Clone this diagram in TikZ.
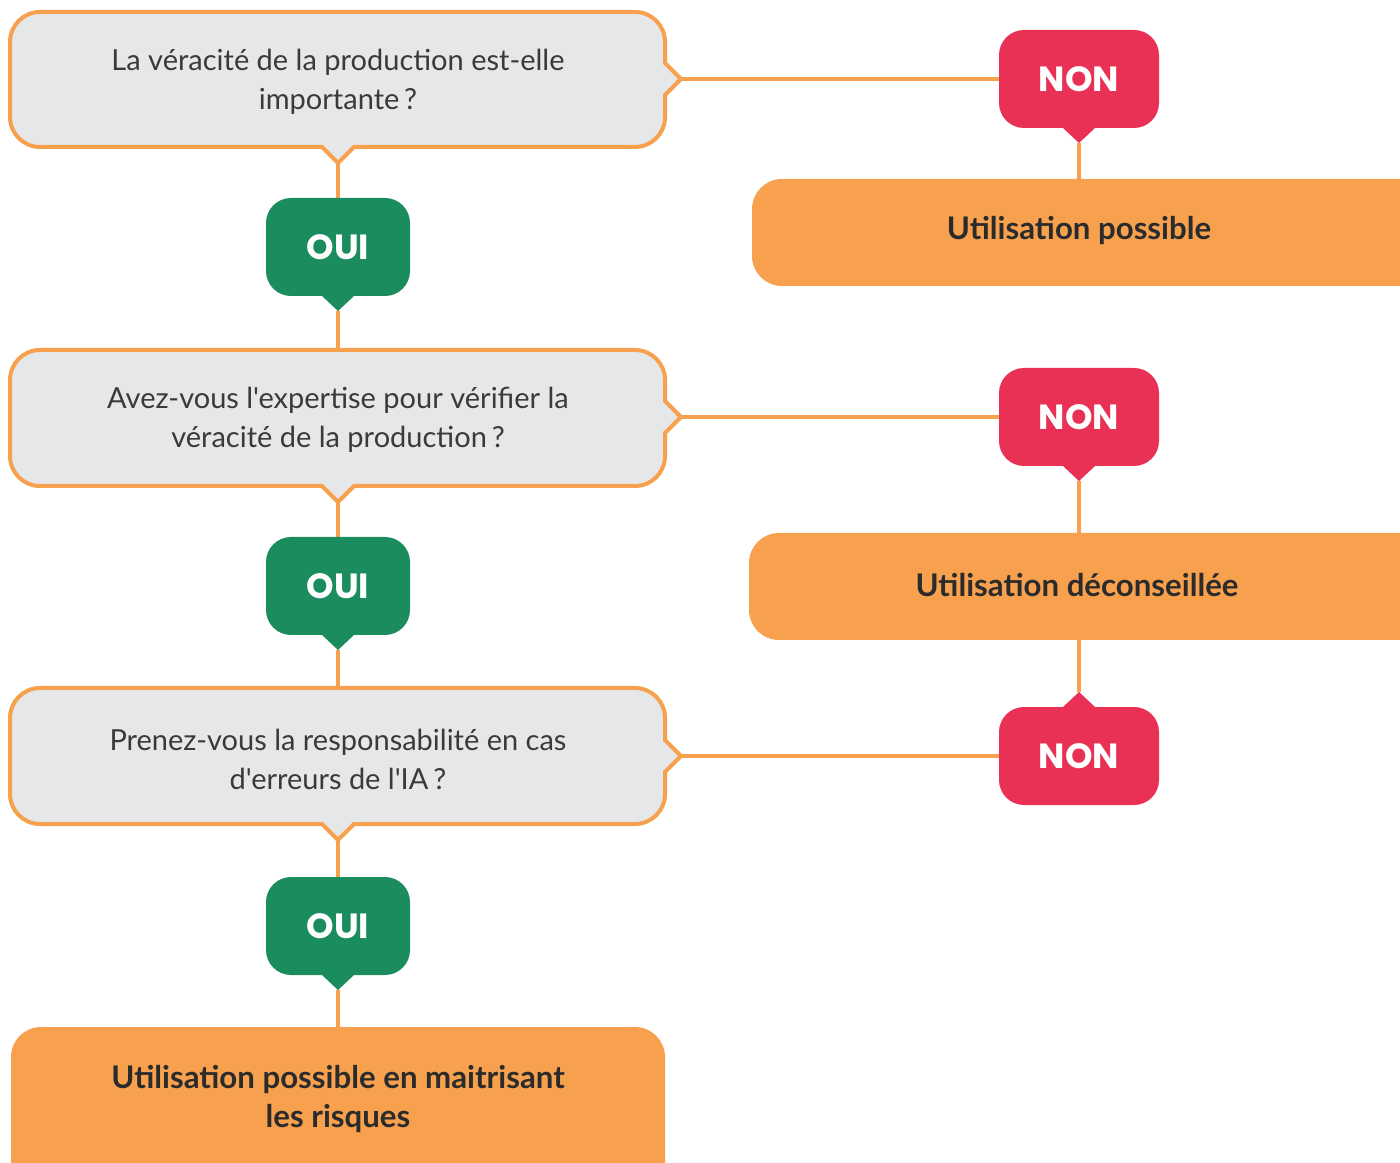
\documentclass[tikz,border=0pt]{standalone}
\usepackage{fontspec}
\setmainfont{Lato}[Ligatures=TeXOff]
\newfontfamily\badgefont{Poppins}
\usetikzlibrary{backgrounds}
\definecolor{orangeA}{HTML}{F7A14F}
\definecolor{grayfill}{HTML}{E6E7E8}
\definecolor{greenA}{HTML}{1A8C5E}
\definecolor{redA}{HTML}{E93055}
\definecolor{qtxt}{HTML}{3A3A3A}
\definecolor{rtxt}{HTML}{2B2B2B}
% question box: #1 top, #2 bottom, #3 middle (y of right notch)
\newcommand{\qshapedraw}[3]{%
  \draw[qshape] (40,#1) -- (635,#1) arc[start angle=90,end angle=0,radius=30]
    -- (665,#3+16) -- (681,#3) -- (665,#3-16)
    -- (665,#2+30) arc[start angle=0,end angle=-90,radius=30]
    -- (354,#2) -- (338,#2-16) -- (322,#2)
    -- (40,#2) arc[start angle=270,end angle=180,radius=30]
    -- (10,#1-30) arc[start angle=180,end angle=90,radius=30] -- cycle;}
% badge with pointer down: #1 colour, #2 left, #3 right, #4 top, #5 bottom, #6 pointer x
\newcommand{\badgedown}[6]{%
  \fill[#1] (#2+25,#4) -- (#3-25,#4) arc[start angle=90,end angle=0,radius=25]
    -- (#3,#5+25) arc[start angle=0,end angle=-90,radius=25]
    -- (#6+16,#5) -- (#6,#5-15) -- (#6-16,#5)
    -- (#2+25,#5) arc[start angle=270,end angle=180,radius=25]
    -- (#2,#4-25) arc[start angle=180,end angle=90,radius=25] -- cycle;}
% badge with pointer up
\newcommand{\badgeup}[6]{%
  \fill[#1] (#2+25,#4) -- (#6-16,#4) -- (#6,#4+15) -- (#6+16,#4)
    -- (#3-25,#4) arc[start angle=90,end angle=0,radius=25]
    -- (#3,#5+25) arc[start angle=0,end angle=-90,radius=25]
    -- (#2+25,#5) arc[start angle=270,end angle=180,radius=25]
    -- (#2,#4-25) arc[start angle=180,end angle=90,radius=25] -- cycle;}
\tikzset{
  qshape/.style={draw=orangeA, fill=grayfill, line width=2pt, line join=miter},
  link/.style={draw=orangeA, line width=2pt},
  qtext/.style={text=qtxt, font=\fontsize{14.5}{19.5}\selectfont, align=center, inner sep=0pt},
  resbox/.style={fill=orangeA, rounded corners=15pt, inner sep=0pt},
  restext/.style={text=rtxt, font=\bfseries\fontsize{15.6}{19.5}\selectfont, align=center, inner sep=0pt},
  nontext/.style={text=white, font=\badgefont\bfseries\fontsize{17.5}{20}\selectfont, inner sep=0pt, minimum width=80pt, minimum height=49pt},
  ouitext/.style={text=white, font=\badgefont\bfseries\fontsize{17.5}{20}\selectfont, inner sep=0pt, minimum width=72pt, minimum height=49pt},
}
\begin{document}
\begin{tikzpicture}[x=0.5pt, y=0.5pt]
\useasboundingbox (0,0) rectangle (1400,1162);
\clip (0,0) rectangle (1400,1162);

% question boxes
\qshapedraw{1150}{1015}{1083}
\qshapedraw{812}{676}{745}
\qshapedraw{474}{338}{406}
\node[qtext] (q1) at (338,1080) {La véracité de la production est-elle\\importante\,?};
\node[qtext] (q2) at (338,742) {Avez-vous l'expertise pour vérifier la\\véracité de la production\,?};
\node[qtext] (q3) at (338,403) {Prenez-vous la responsabilité en cas\\d'erreurs de l'IA\,?};
\coordinate (q1r) at (681,1083);
\coordinate (q1b) at (338,999);
\coordinate (q2t) at (338,812);
\coordinate (q2r) at (681,745);
\coordinate (q2b) at (338,660);
\coordinate (q3t) at (338,474);
\coordinate (q3r) at (681,406);
\coordinate (q3b) at (338,322);

% OUI badges
\badgedown{greenA}{266}{410}{964}{866}{338}
\badgedown{greenA}{266}{410}{625}{527}{338}
\badgedown{greenA}{266}{410}{285}{187}{338}
\node[ouitext] (oui1) at (338,915) {OUI};
\node[ouitext] (oui2) at (338,576) {OUI};
\node[ouitext] (oui3) at (338,236) {OUI};
\coordinate (oui1tip) at (338,851);
\coordinate (oui2tip) at (338,512);
\coordinate (oui3tip) at (338,172);

% NON badges
\badgedown{redA}{999}{1159}{1132}{1034}{1079}
\badgedown{redA}{999}{1159}{794}{696}{1079}
\badgeup{redA}{999}{1159}{455}{357}{1079}
\node[nontext] (non1) at (1079,1083) {NON};
\node[nontext] (non2) at (1079,745) {NON};
\node[nontext] (non3) at (1079,406) {NON};
\coordinate (non1tip) at (1079,1019);
\coordinate (non2tip) at (1079,681);
\coordinate (non3tip) at (1079,470);

% result boxes
\node[resbox, minimum width=339pt, minimum height=53.5pt] (r1box) at (1091,929.5) {};
\node[restext] (r1) at (1079,931) {Utilisation possible};
\node[resbox, minimum width=340.5pt, minimum height=53.5pt] (r2box) at (1089.5,575.5) {};
\node[restext] (r2) at (1077,577) {Utilisation déconseillée};
\node[resbox, minimum width=327pt, minimum height=82.5pt] (r3box) at (338,52.5) {};
\node[restext] (r3) at (338,63) {Utilisation possible en maitrisant\\les risques};

% connectors
\begin{pgfonlayer}{background}
\draw[link] (q1r) -- (non1.west);
\draw[link] (non1tip) -- (non1tip |- r1box.north);
\draw[link] (q1b) -- (oui1.north);
\draw[link] (oui1tip) -- (q2t);
\draw[link] (q2r) -- (non2.west);
\draw[link] (non2tip) -- (non2tip |- r2box.north);
\draw[link] (non3tip |- r2box.south) -- (non3tip);
\draw[link] (non3.west) -- (q3r);
\draw[link] (q2b) -- (oui2.north);
\draw[link] (oui2tip) -- (q3t);
\draw[link] (q3b) -- (oui3.north);
\draw[link] (oui3tip) -- (r3box.north);
\end{pgfonlayer}
\end{tikzpicture}
\end{document}
